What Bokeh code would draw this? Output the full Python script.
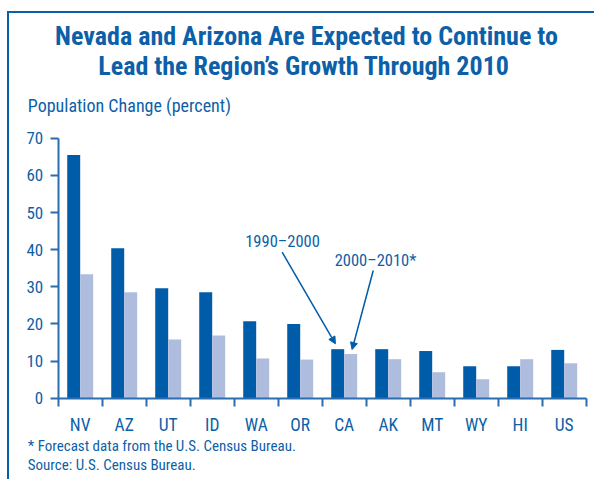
import numpy as np
from bokeh.plotting import figure
from bokeh.models import Range1d, LinearAxis, FixedTicker, Label, Arrow, NormalHead
from bokeh.embed import file_html
from bokeh.resources import INLINE

# ---- data ----
states = ["NV", "AZ", "UT", "ID", "WA", "OR", "CA", "AK", "MT", "WY", "HI", "US"]
change_1990_2000 = [65.5, 40.4, 29.6, 28.5, 20.7, 20.0, 13.2, 13.2, 12.7, 8.6, 8.6, 13.0]
change_2000_2010 = [33.4, 28.5, 15.8, 16.9, 10.7, 10.4, 11.9, 10.5, 7.0, 5.1, 10.5, 9.4]
y_ticks = [0, 10, 20, 30, 40, 50, 60, 70]

title_line1 = "Nevada and Arizona Are Expected to Continue to"
title_line2 = "Lead the Region\u2019s Growth Through 2010"
y_label = "Population Change (percent)"
note1 = "* Forecast data from the U.S. Census Bureau."
note2 = "Source: U.S. Census Bureau."
lbl_a = "1990\u20132000"
lbl_b = "2000\u20132010*"

FONT = "Roboto Condensed"
BLUE_TXT = "#0d5fa7"
DARK = "#005ca9"
LIGHT = "#aebcde"
AXIS = "#2a6db0"

# ---- layout (pixels) ----
W, H = 587, 468          # canvas size
X0, Y0 = 48.7, 384.7     # canvas position of the data origin
PXX, PXY = 44.0, 3.714   # pixels per category / per percent

n = len(states)
centers = np.arange(n) + 0.5
bw = 0.295

p = figure(width=W, height=H, output_backend="svg", toolbar_location=None,
           x_range=Range1d(-X0 / PXX, (W - X0) / PXX),
           y_range=Range1d(-(H - Y0) / PXY, Y0 / PXY),
           x_axis_type=None, y_axis_type=None,
           min_border_left=0, min_border_right=0, min_border_top=0, min_border_bottom=0)
p.styles = {"margin-top": "11px", "margin-left": "7px",
            "border-top": "2px solid #0a5fa8", "border-left": "2px solid #0a5fa8"}
p.grid.visible = False
p.outline_line_color = None
p.background_fill_color = "white"
p.border_fill_color = "white"

p.vbar(x=centers - bw / 2, width=bw, top=change_1990_2000, bottom=0, fill_color=DARK, line_color=None)
p.vbar(x=centers + bw / 2, width=bw, top=change_2000_2010, bottom=0, fill_color=LIGHT, line_color=None)

# y axis
yax = LinearAxis(ticker=FixedTicker(ticks=y_ticks, minor_ticks=[]), fixed_location=0,
                 bounds=(y_ticks[0], y_ticks[-1]))
yax.axis_line_color = AXIS
yax.axis_line_width = 2
yax.major_tick_line_color = AXIS
yax.major_tick_line_width = 2
yax.major_tick_in = 0
yax.major_tick_out = 8
yax.minor_tick_line_color = None
yax.major_label_standoff = 7
yax.major_label_text_font = FONT
yax.major_label_text_font_size = "17px"
yax.major_label_text_color = BLUE_TXT
p.add_layout(yax, "left")

# x axis: labels at centers, ticks at category boundaries
xax = LinearAxis(ticker=FixedTicker(ticks=list(centers), minor_ticks=list(range(n + 1))),
                 fixed_location=0, bounds=(0, n))
xax.major_label_overrides = {float(c): s for c, s in zip(centers, states)}
xax.axis_line_color = AXIS
xax.axis_line_width = 2
xax.major_tick_line_color = None
xax.major_tick_in = 0
xax.major_tick_out = 0
xax.minor_tick_line_color = AXIS
xax.minor_tick_line_width = 2
xax.minor_tick_in = 0
xax.minor_tick_out = 8
xax.major_label_standoff = 9
xax.major_label_text_font = FONT
xax.major_label_text_font_size = "17.5px"
xax.major_label_text_color = BLUE_TXT
p.add_layout(xax, "below")

def lab(x, y, text, size, align="left", style="normal"):
    p.add_layout(Label(x=x, y=y, text=text, text_font=FONT, text_font_size=size,
                       text_color=BLUE_TXT, text_align=align, text_baseline="alphabetic",
                       text_font_style=style))

lab(5.643, 97.6, title_line1, "26px", "center", "bold")
lab(5.586, 89.5, title_line2, "26px", "center", "bold")
lab(-0.691, 78.8, y_label, "18px")
lab(-0.691, -12.9, note1, "15px")
lab(-0.691, -18.0, note2, "15px")
lab(5.098, 42.3, lbl_a, "16.5px", "center")
lab(7.211, 37.18, lbl_b, "16.5px", "center")

p.add_layout(Arrow(x_start=5.09, y_start=39.31, x_end=6.30, y_end=14.65, line_color=DARK, line_width=1.5,
                   end=NormalHead(size=7, fill_color=DARK, line_color=DARK)))
p.add_layout(Arrow(x_start=7.16, y_start=34.38, x_end=6.68, y_end=13.11, line_color=DARK, line_width=1.5,
                   end=NormalHead(size=7, fill_color=DARK, line_color=DARK)))

open("out.html", "w").write(file_html(p, INLINE))
